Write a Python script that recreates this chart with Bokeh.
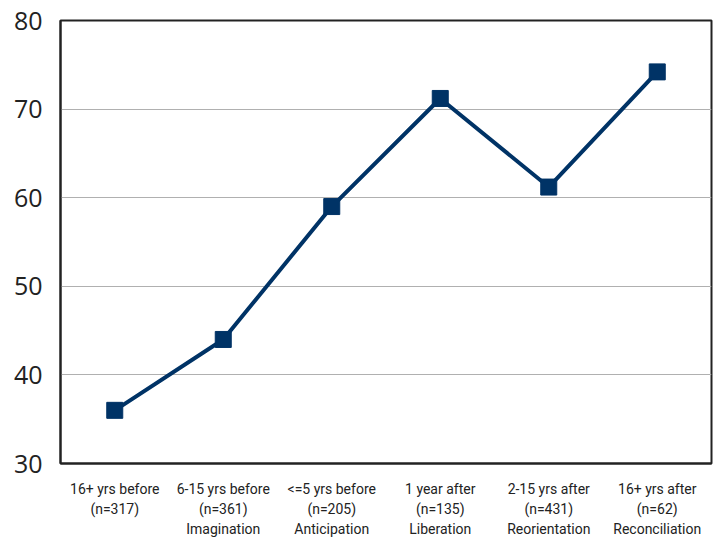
from bokeh.plotting import figure
from bokeh.models import FactorRange, Range1d, FixedTicker
from bokeh.embed import file_html
from bokeh.resources import INLINE

categories = ["16+ yrs before\n(n=317)", "6-15 yrs before\n(n=361)\nImagination",
              "<=5 yrs before\n(n=205)\nAnticipation", "1 year after\n(n=135)\nLiberation",
              "2-15 yrs after\n(n=431)\nReorientation", "16+ yrs after\n(n=62)\nReconciliation"]
values = [36, 44, 59, 71.2, 61.2, 74.2]
y_ticks = [30, 40, 50, 60, 70, 80]

p = figure(x_range=FactorRange(*categories), y_range=Range1d(30, 80),
           width=713, height=539, output_backend="svg", toolbar_location=None,
           min_border_left=60, min_border_right=2, min_border_top=20, min_border_bottom=70)

p.line(categories, values, line_color="#003366", line_width=4)
p.scatter(categories, values, marker="square", size=16, fill_color="#003366", line_color="#003366")

p.outline_line_color="#222222"
p.outline_line_width=2
p.xgrid.grid_line_color=None
p.ygrid.grid_line_color="#b0b0b0"
p.ygrid.grid_line_width=1
p.yaxis.ticker = FixedTicker(ticks=y_ticks)
p.yaxis.major_label_text_font_size = "25px"
p.yaxis.major_label_text_color = "#222222"
p.yaxis.major_label_text_font = "Open Sans"
p.xaxis.major_label_text_font_size = "14px"
p.xaxis.major_label_text_color = "#222222"
p.xaxis.major_label_text_font = "Roboto"
p.xaxis.major_label_text_line_height = 1.25
p.xaxis.major_label_standoff = 11
p.yaxis.major_label_standoff = 12
for ax in (p.xaxis, p.yaxis):
    ax.axis_line_color = "#222222"
    ax.axis_line_width = 2
    ax.major_tick_line_color = None
    ax.minor_tick_line_color = None

open("out.html", "w").write(file_html(p, INLINE))
